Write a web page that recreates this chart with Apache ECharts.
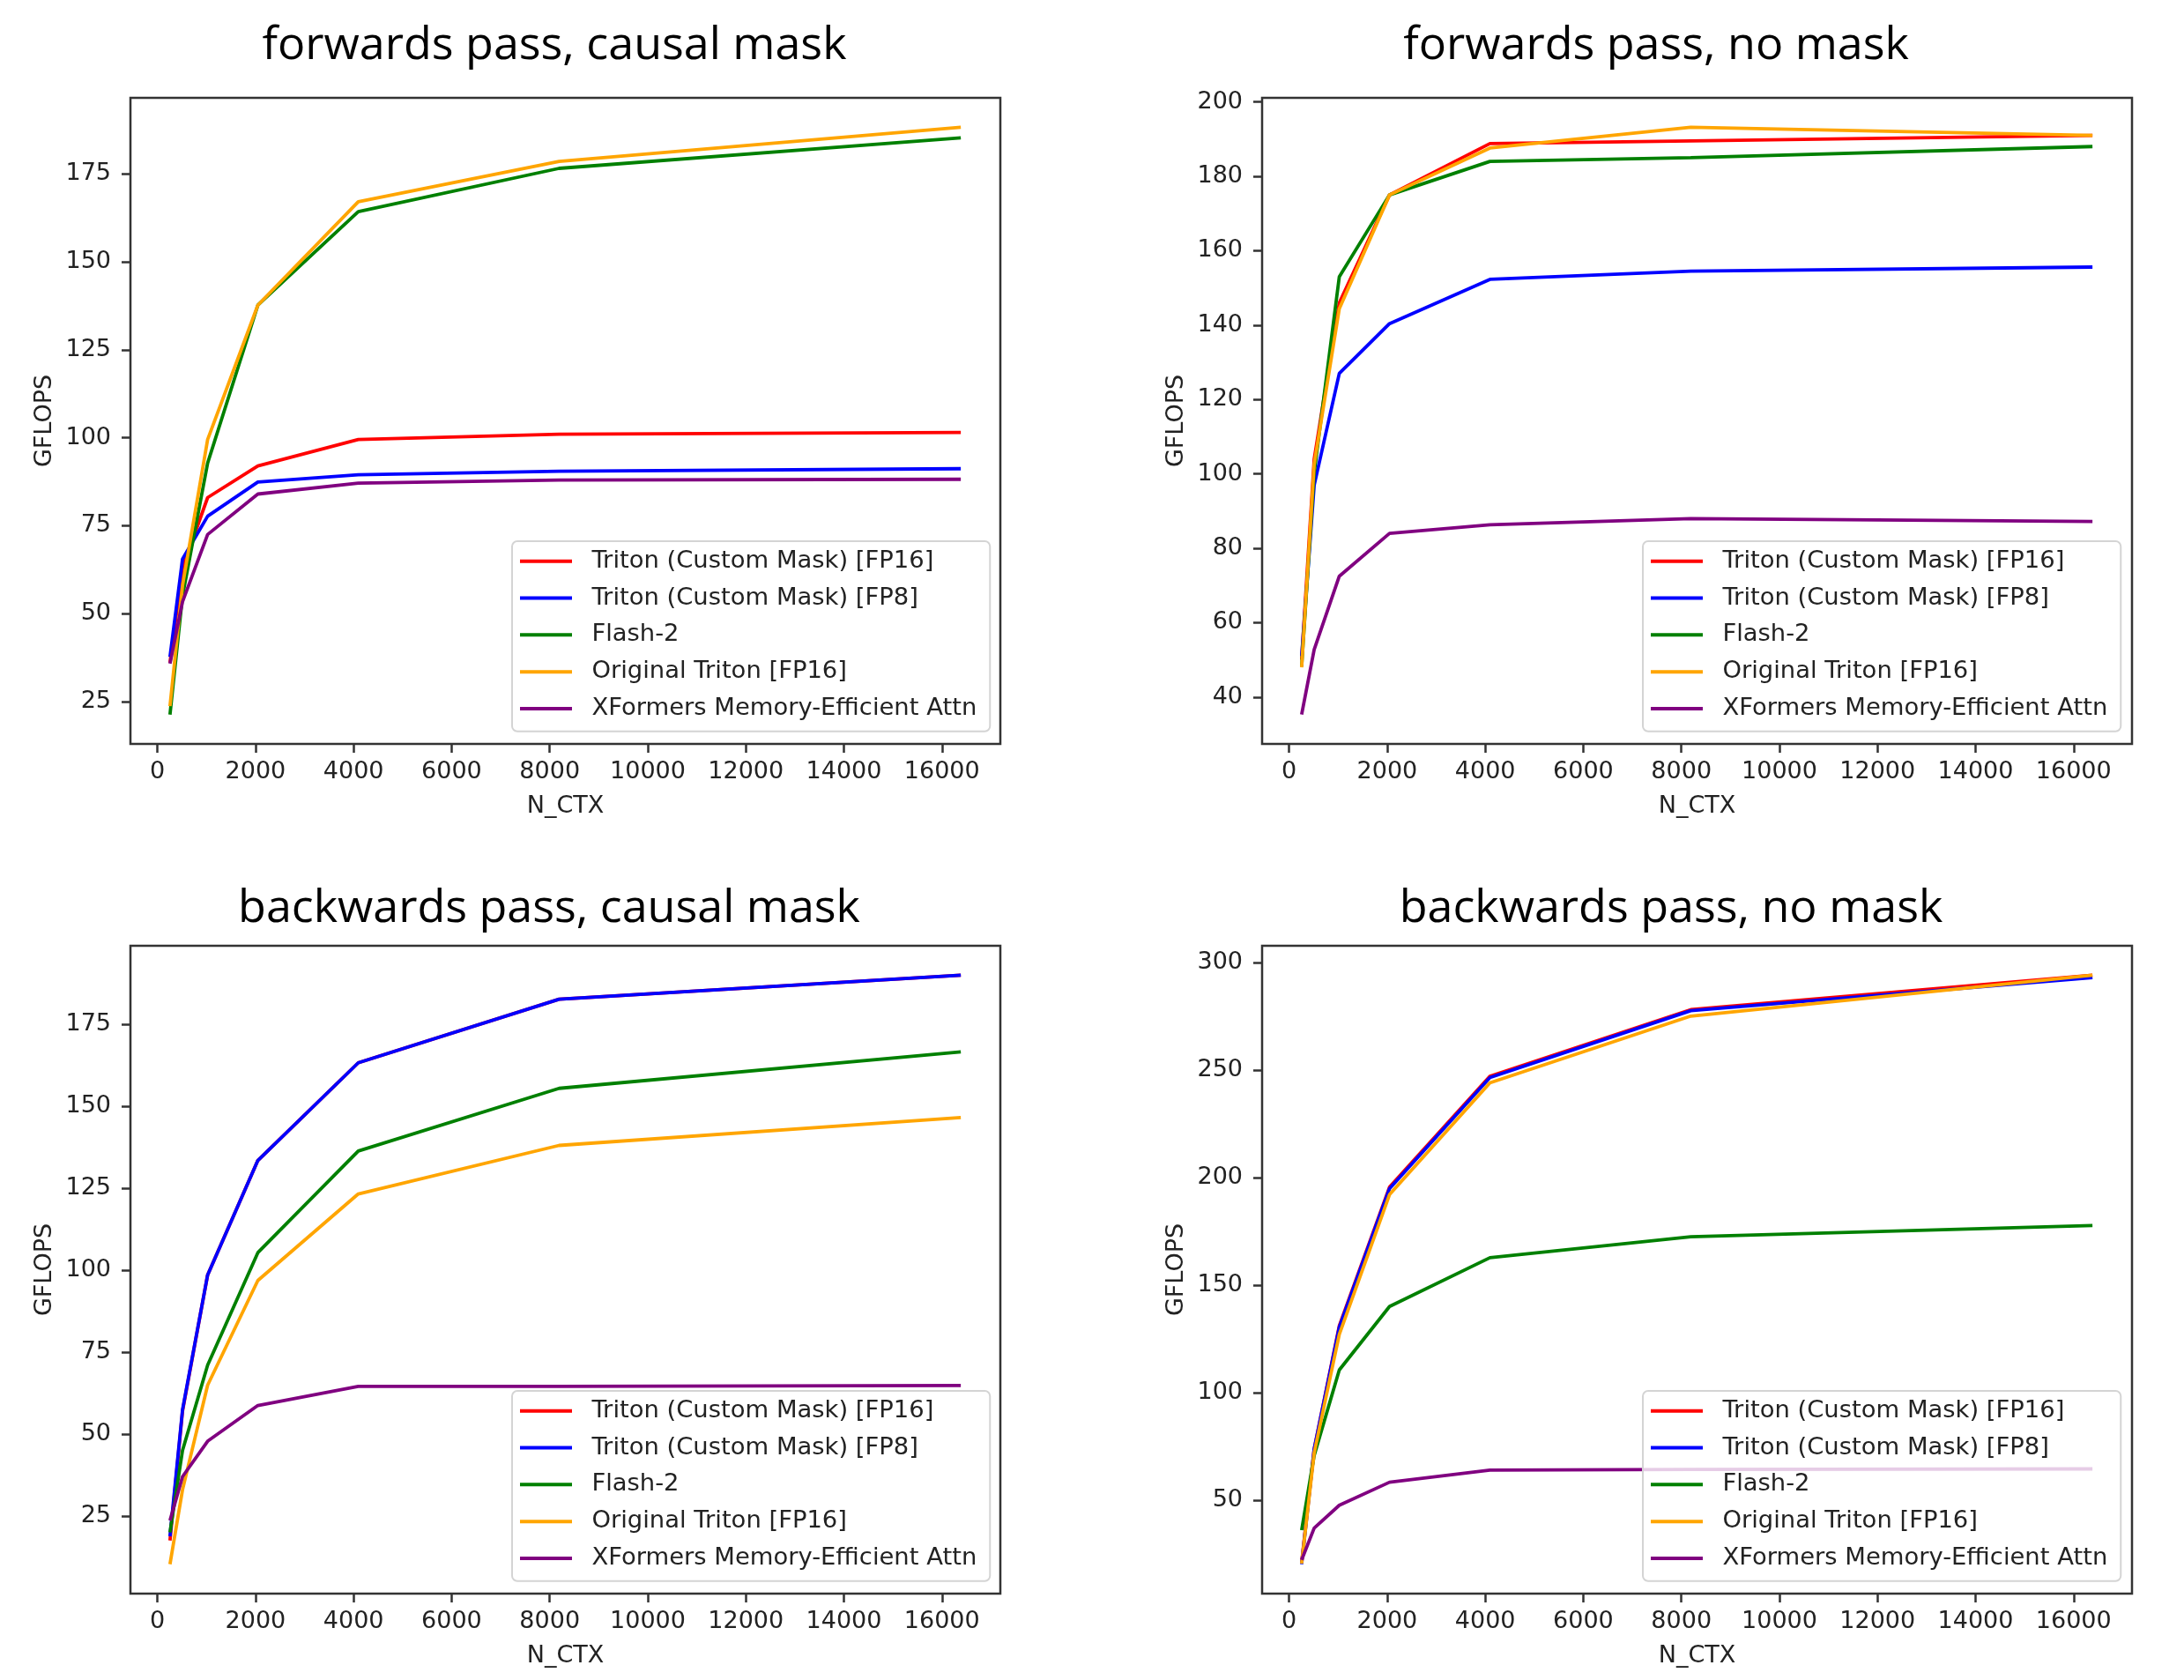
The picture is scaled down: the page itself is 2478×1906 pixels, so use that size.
<!DOCTYPE html>
<html>
<head>
<meta charset="utf-8">
<script src="https://cdn.jsdelivr.net/npm/echarts@6/dist/echarts.min.js"></script>
<style>
html,body{margin:0;padding:0;background:#ffffff;}
#chart{width:2478px;height:1906px;}
</style>
</head>
<body>
<div id="chart"></div>
<script>
// ---------------- DATA ----------------
const nCtx = [256, 512, 1024, 2048, 4096, 8192, 16384];
const seriesNames = [
  'Triton (Custom Mask) [FP16]',
  'Triton (Custom Mask) [FP8]',
  'Flash-2',
  'Original Triton [FP16]',
  'XFormers Memory-Efficient Attn'
];
const seriesColors = ['#ff0000', '#0000ff', '#008000', '#ffa500', '#800080'];
const panelTitles = [
  'forwards pass, causal mask',
  'forwards pass, no mask',
  'backwards pass, causal mask',
  'backwards pass, no mask'
];
const xTickValues = [0, 2000, 4000, 6000, 8000, 10000, 12000, 14000, 16000];
const yTicksFwdCausal = [25, 50, 75, 100, 125, 150, 175];
const yTicksFwdNoMask = [40, 60, 80, 100, 120, 140, 160, 180, 200];
const yTicksBwdCausal = [25, 50, 75, 100, 125, 150, 175];
const yTicksBwdNoMask = [50, 100, 150, 200, 250, 300];

// forwards pass, causal mask
const fwdCausalTritonFP16 = [36, 63, 83, 92, 99.5, 101, 101.5];
const fwdCausalTritonFP8  = [37.7, 65.5, 77.7, 87.4, 89.5, 90.5, 91.2];
const fwdCausalFlash2     = [21.3, 55, 92.8, 137.7, 164.3, 176.6, 185.3];
const fwdCausalOrigTriton = [23.7, 58, 99.5, 137.7, 167.1, 178.6, 188.3];
const fwdCausalXFormers   = [35.8, 53.4, 72.5, 84, 87.1, 88, 88.2];

// forwards pass, no mask
const fwdNoMaskTritonFP16 = [50, 104, 146, 175, 188.8, 189.5, 191];
const fwdNoMaskTritonFP8  = [51, 97, 127, 140.4, 152.3, 154.5, 155.6];
const fwdNoMaskFlash2     = [48.2, 100.3, 153, 175, 184, 185, 188];
const fwdNoMaskOrigTriton = [48, 102.6, 144.4, 175, 187.6, 193.2, 191];
const fwdNoMaskXFormers   = [35.3, 52.8, 72.5, 84, 86.3, 88, 87.2];

// backwards pass, causal mask
const bwdCausalTritonFP16 = [17.5, 57, 98.5, 133.4, 163.2, 182.6, 189.9];
const bwdCausalTritonFP8  = [18.8, 57.4, 98.5, 133.4, 163.2, 182.6, 189.9];
const bwdCausalFlash2     = [20, 45, 71, 105.3, 136.3, 155.4, 166.5];
const bwdCausalOrigTriton = [10.3, 33, 64.9, 96.8, 123.2, 138, 146.5];
const bwdCausalXFormers   = [23.6, 37, 47.8, 58.7, 64.5, 64.5, 64.8];

// backwards pass, no mask
const bwdNoMaskTritonFP16 = [21, 73.8, 131, 195.5, 247, 278, 294];
const bwdNoMaskTritonFP8  = [20.2, 73.8, 130.4, 194.8, 246.4, 277.5, 292.9];
const bwdNoMaskFlash2     = [36, 70.8, 110.5, 140, 162.7, 172.4, 177.6];
const bwdNoMaskOrigTriton = [20.5, 72, 127, 192, 244, 275, 294];
const bwdNoMaskXFormers   = [22.2, 37, 47.6, 58.3, 63.9, 64.2, 64.5];

// ---------------- BUILD ----------------
const panels = [
  { values: [fwdCausalTritonFP16, fwdCausalTritonFP8, fwdCausalFlash2, fwdCausalOrigTriton, fwdCausalXFormers], yTicks: yTicksFwdCausal },
  { values: [fwdNoMaskTritonFP16, fwdNoMaskTritonFP8, fwdNoMaskFlash2, fwdNoMaskOrigTriton, fwdNoMaskXFormers], yTicks: yTicksFwdNoMask },
  { values: [bwdCausalTritonFP16, bwdCausalTritonFP8, bwdCausalFlash2, bwdCausalOrigTriton, bwdCausalXFormers], yTicks: yTicksBwdCausal },
  { values: [bwdNoMaskTritonFP16, bwdNoMaskTritonFP8, bwdNoMaskFlash2, bwdNoMaskOrigTriton, bwdNoMaskXFormers], yTicks: yTicksBwdNoMask }
];

// layout (pixels)
const gridBoxes = [
  { left: 148, top: 111, width: 987, height: 733 },
  { left: 1432, top: 111, width: 987, height: 733 },
  { left: 148, top: 1073, width: 987, height: 735 },
  { left: 1432, top: 1073, width: 987, height: 735 }
];
const titlePos = [
  { x: 629, y: 52 }, { x: 1879, y: 52 }, { x: 623, y: 1031 }, { x: 1896, y: 1031 }
];
const legendPos = [
  { left: 581, top: 614 }, { left: 1864, top: 614 }, { left: 581, top: 1578 }, { left: 1864, top: 1578 }
];

function padExtent(arrs) {
  let lo = Infinity, hi = -Infinity;
  arrs.forEach(a => a.forEach(v => { lo = Math.min(lo, v); hi = Math.max(hi, v); }));
  const m = (hi - lo) * 0.05;
  return [lo - m, hi + m];
}
const xExt = padExtent([nCtx]);

const tickFont = { fontFamily: 'DejaVu Sans', fontSize: 27, color: '#222222' };
const spine = '#333333';

const option = {
  animation: false,
  backgroundColor: '#ffffff',
  title: [], grid: [], xAxis: [], yAxis: [], legend: [], series: []
};

panels.forEach((p, i) => {
  const yExt = padExtent(p.values);
  option.title.push({
    text: panelTitles[i], left: titlePos[i].x, top: titlePos[i].y,
    textAlign: 'center', textVerticalAlign: 'middle', padding: 0,
    textStyle: { fontFamily: 'Open Sans', fontSize: 52, fontWeight: 'normal', color: '#000000' }
  });
  option.grid.push(Object.assign({
    show: true, borderColor: spine, borderWidth: 2.5, backgroundColor: 'transparent', containLabel: false
  }, gridBoxes[i]));
  option.xAxis.push({
    type: 'value', gridIndex: i, min: xExt[0], max: xExt[1],
    name: 'N_CTX', nameLocation: 'middle', nameGap: 57,
    nameTextStyle: { fontFamily: 'DejaVu Sans', fontSize: 27, color: '#222222' },
    axisLine: { show: false, onZero: false },
    splitLine: { show: false },
    axisTick: { show: true, length: 10, customValues: xTickValues, lineStyle: { color: spine, width: 2.5 } },
    axisLabel: Object.assign({ margin: 18, customValues: xTickValues, formatter: v => String(v) }, tickFont)
  });
  option.yAxis.push({
    type: 'value', gridIndex: i, min: yExt[0], max: yExt[1],
    name: 'GFLOPS', nameLocation: 'middle', nameGap: 84, nameRotate: 90,
    nameTextStyle: { fontFamily: 'DejaVu Sans', fontSize: 27, color: '#222222' },
    axisLine: { show: false, onZero: false },
    splitLine: { show: false },
    axisTick: { show: true, length: 10, customValues: p.yTicks, lineStyle: { color: spine, width: 2.5 } },
    axisLabel: Object.assign({ margin: 22, customValues: p.yTicks, formatter: v => String(v) }, tickFont)
  });
  option.legend.push({
    data: seriesNames.slice(),
    orient: 'vertical',
    left: legendPos[i].left, top: legendPos[i].top,
    icon: 'rect', itemWidth: 59, itemHeight: 4, itemGap: 14.3,
    padding: [9, 15, 12, 9],
    backgroundColor: 'rgba(255,255,255,0.8)',
    borderColor: '#d4d4d4', borderWidth: 2, borderRadius: 6,
    selectedMode: false,
    formatter: n => '  ' + n,
    textStyle: { fontFamily: 'DejaVu Sans', fontSize: 27.4, color: '#222222', lineHeight: 27.5 }
  });
  p.values.forEach((vals, k) => {
    option.series.push({
      type: 'line', name: seriesNames[k], xAxisIndex: i, yAxisIndex: i,
      data: nCtx.map((x, j) => [x, vals[j]]),
      symbol: 'none', showSymbol: false, smooth: false,
      color: seriesColors[k],
      itemStyle: { color: seriesColors[k] },
      lineStyle: { color: seriesColors[k], width: 3.8 },
      emphasis: { disabled: true }
    });
  });
});

const chart = echarts.init(document.getElementById('chart'), null, { renderer: 'canvas' });
chart.setOption(option);
</script>
</body>
</html>
